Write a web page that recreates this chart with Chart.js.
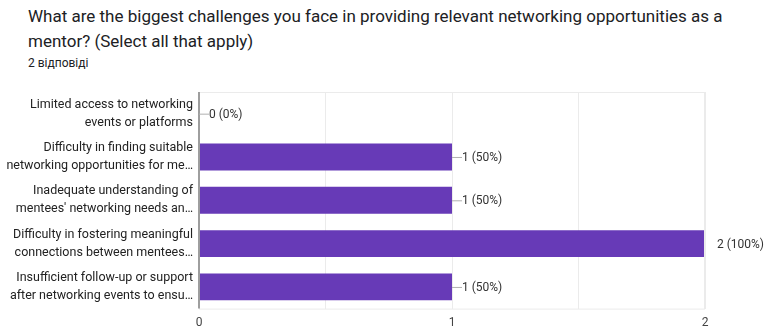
<!DOCTYPE html>
<html>
<head>
<meta charset="utf-8">
<script src="https://cdn.jsdelivr.net/npm/chart.js@4"></script>
<style>
  html, body { margin: 0; background: #fff; font-family: Roboto, Arial, sans-serif; overflow: hidden; }
  #title { position: absolute; left: 28px; top: 4px; width: 740px; font-size: 17px; line-height: 25px; color: #202124; }
  #sub { position: absolute; left: 28px; top: 56px; font-size: 12px; color: #202124; }
  #wrap { position: absolute; left: 0; top: 85px; width: 772px; height: 252px; }
</style>
</head>
<body>
<div id="title">What are the biggest challenges you face in providing relevant networking opportunities as a mentor? (Select all that apply)</div>
<div id="sub">2 відповіді</div>
<div id="wrap"><canvas id="my-chart"></canvas></div>
<script>
'use strict';
// chart data
let categories = [
  ['Limited access to networking', 'events or platforms'],
  ['Difficulty in finding suitable', 'networking opportunities for me…'],
  ['Inadequate understanding of', 'mentees\' networking needs an…'],
  ['Difficulty in fostering meaningful', 'connections between mentees…'],
  ['Insufficient follow-up or support', 'after networking events to ensu…']
]
let counts = [0, 1, 1, 2, 1]
let percents = ['0%', '50%', '50%', '100%', '50%']
let xTicks = [0, 1, 2]

// draws box round the plot and the value labels
const extras = {
  id: 'extras',
  afterDatasetsDraw(chart) {
    const ctx = chart.ctx
    const area = chart.chartArea
    const meta = chart.getDatasetMeta(0)
    ctx.save()
    ctx.strokeStyle = '#ebebeb'
    ctx.lineWidth = 1
    ctx.strokeRect(area.left + 0.5, area.top + 0.5, area.right - area.left - 1, area.bottom - area.top)
    ctx.strokeStyle = '#9e9e9e'
    ctx.lineWidth = 2
    ctx.beginPath()
    ctx.moveTo(area.left, area.top)
    ctx.lineTo(area.left, area.bottom)
    ctx.stroke()

    ctx.font = '12px Roboto, Arial, sans-serif'
    ctx.textBaseline = 'middle'
    ctx.fillStyle = '#333'
    for (let i = 0; i < counts.length; i++) {
      let bar = meta.data[i]
      let x = bar.x
      let y = bar.y
      let text = counts[i] + ' (' + percents[i] + ')'
      if (counts[i] === xTicks[xTicks.length - 1]) {
        ctx.fillText(text, x + 12, y + 1)
      } else {
        ctx.strokeStyle = '#b0b0b0'
        ctx.lineWidth = 1
        ctx.beginPath()
        ctx.moveTo(x, y + 0.5)
        ctx.lineTo(x + 10, y + 0.5)
        ctx.stroke()
        ctx.fillText(text, x + 10, y + 1)
      }
    }
    ctx.restore()
  }
}

const ctx = document.getElementById('my-chart').getContext('2d')
const myChart = new Chart(ctx, {
  type: 'bar',
  data: {
    labels: categories,
    datasets: [{
      data: counts,
      backgroundColor: '#673ab7',
      borderWidth: 0,
      barPercentage: 0.62,
      categoryPercentage: 1
    }]
  },
  options: {
    indexAxis: 'y',
    responsive: true,
    maintainAspectRatio: false,
    animation: false,
    layout: { padding: { top: 7, right: 67, bottom: 0, left: 0 } },
    plugins: {
      legend: { display: false },
      tooltip: { enabled: false }
    },
    scales: {
      x: {
        min: 0,
        max: 2,
        ticks: {
          stepSize: 0.5,
          color: '#444',
          font: { family: 'Roboto, Arial, sans-serif', size: 12 },
          padding: 7,
          callback: (v) => Number.isInteger(v) ? v : ''
        },
        grid: { color: '#ebebeb', drawTicks: false },
        border: { display: false }
      },
      y: {
        afterFit(scale) {
          scale.width = 199
          scale.paddingTop = 0
          scale.paddingBottom = 0
        },
        ticks: {
          autoSkip: false,
          color: '#222',
          font: { family: 'Roboto, Arial, sans-serif', size: 12.5, lineHeight: 1.45 },
          padding: 6
        },
        grid: { display: false, drawTicks: false },
        border: { display: false }
      }
    }
  },
  plugins: [extras]
})
</script>
</body>
</html>
